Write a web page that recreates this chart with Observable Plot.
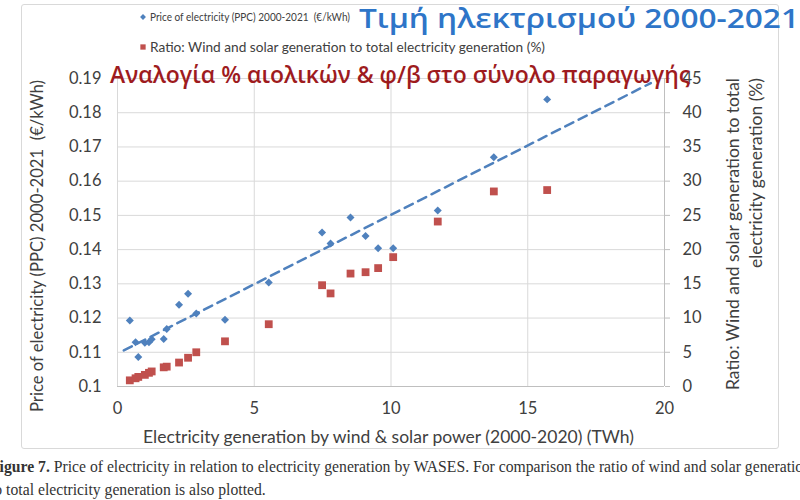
<!DOCTYPE html>
<html>
<head>
<meta charset="utf-8">
<script src="https://cdn.jsdelivr.net/npm/d3@7"></script>
<script src="https://cdn.jsdelivr.net/npm/@observablehq/plot@0.6"></script>
<style>
  html, body { margin: 0; padding: 0; background: #fff; }
  #wrap { position: relative; width: 800px; height: 500px; overflow: hidden; background: #fff; font-family: Lato, "Open Sans", sans-serif; }
  #frame { position: absolute; left: 21px; top: 4px; width: 756px; height: 443px; border: 1px solid #d9d9d9; border-radius: 3px; }
  #plot { position: absolute; left: 0; top: 0; }
  .abs { position: absolute; white-space: nowrap; }
  #overlay { position: absolute; left: 0; top: 0; pointer-events: none; }
</style>
</head>
<body>
<div id="wrap">
  <div id="frame"></div>
  <div id="plot"></div>
  <svg id="overlay" width="800" height="500"></svg>
  <div class="abs" style="left:-10px; top:455px; font-family:'Liberation Serif', 'DejaVu Serif', serif; font-size:15.7px; line-height:23px; color:#333;">
    <b>Figure 7.</b> Price of electricity in relation to electricity generation by WASES. For comparison the ratio of wind and solar generation<br>to total electricity generation is also plotted.
  </div>
</div>
<script>
// ---- data ----
const windSolarTWh = [0.45, 0.66, 0.76, 1.00, 1.15, 1.25, 1.69, 1.80, 2.25, 2.58, 2.88, 3.93, 5.53, 7.48, 7.79, 8.52, 9.07, 9.53, 10.08, 11.71, 13.76, 15.71];
const priceEurKWh  = [0.1193, 0.1129, 0.1086, 0.1128, 0.1129, 0.1138, 0.1139, 0.1168, 0.1239, 0.1271, 0.1213, 0.1195, 0.1304, 0.1450, 0.1418, 0.1494, 0.1440, 0.1404, 0.1404, 0.1514, 0.1670, 0.1839];
const ratioPct     = [0.9, 1.2, 1.4, 1.7, 2.0, 2.2, 2.8, 2.9, 3.5, 4.2, 5.0, 6.6, 9.1, 14.8, 13.6, 16.5, 16.7, 17.3, 18.9, 24.1, 28.5, 28.7];
const xTicks     = [0, 5, 10, 15, 20];
const priceTicks = [0.10, 0.11, 0.12, 0.13, 0.14, 0.15, 0.16, 0.17, 0.18, 0.19];
const ratioTicks = [0, 5, 10, 15, 20, 25, 30, 35, 40, 45];
const trendRange = [0.23, 19.5]; // trendline forecast extent (TWh)

const legendPrice = "Price of electricity (PPC) 2000-2021  (€/kWh)";
const legendRatio = "Ratio: Wind and solar generation to total electricity generation (%)";
const titleGreekPrice = "Τιμή ηλεκτρισμού 2000-2021";
const titleGreekRatio = "Αναλογία % αιολικών & φ/β στο σύνολο παραγωγής";
const xTitle = "Electricity generation by wind & solar power (2000-2020) (TWh)";
const yLeftTitle = "Price of electricity (PPC) 2000-2021  (€/kWh)";
const yRightTitle = ["Ratio: Wind and solar generation to total", "electricity generation (%)"];

// ---- secondary axis mapping: ratio 0..45 onto price 0.10..0.19 ----
const priceDomain = [0.10, 0.19], ratioDomain = [0, 45];
const toY = r => priceDomain[0] + (r - ratioDomain[0]) * (priceDomain[1] - priceDomain[0]) / (ratioDomain[1] - ratioDomain[0]);
const fromY = y => Math.round(ratioDomain[0] + (y - priceDomain[0]) * (ratioDomain[1] - ratioDomain[0]) / (priceDomain[1] - priceDomain[0]));

const rows = windSolarTWh.map((x, i) => ({x, price: priceEurKWh[i], ratio: ratioPct[i]}));

// linear least-squares trend of price vs generation
const mx = d3.mean(windSolarTWh), my = d3.mean(priceEurKWh);
const slope = d3.sum(rows, d => (d.x - mx) * (d.price - my)) / d3.sum(rows, d => (d.x - mx) ** 2);
const intercept = my - slope * mx;
const trend = trendRange.map(x => ({x, y: intercept + slope * x}));

const blue = "#4F81BD", red = "#C0504D", grid = "#d9d9d9", axisC = "#bfbfbf", txt = "#404040";

const chart = Plot.plot({
  width: 800, height: 450,
  marginLeft: 117, marginRight: 136, marginTop: 78, marginBottom: 64,
  x: {domain: [0, 20]},
  y: {domain: priceDomain},
  style: {fontFamily: "Lato, 'Open Sans', sans-serif", background: "transparent", overflow: "visible"},
  marks: [
    Plot.gridY(priceTicks, {stroke: grid, strokeOpacity: 1}),
    Plot.gridX(xTicks.slice(0, -1), {stroke: grid, strokeOpacity: 1}),
    Plot.ruleX([20], {stroke: axisC}),
    Plot.ruleY([0.10], {stroke: axisC}),
    Plot.axisX(xTicks, {tickSize: 0, tickPadding: 16, fontSize: 16.5, fill: txt, label: null, tickFormat: d => String(d)}),
    Plot.axisY(priceTicks, {anchor: "left", tickSize: 0, tickPadding: 16, fontSize: 16.5, fill: txt, label: null, tickFormat: d => String(+d.toFixed(2))}),
    Plot.axisY(ratioTicks.map(toY), {anchor: "right", tickSize: 5, tickPadding: 13, fontSize: 16.5, fill: txt, stroke: axisC, label: null, tickFormat: d => String(fromY(d))}),
    Plot.dot(rows, {x: "x", y: "price", symbol: "diamond2", r: 3.6, fill: blue, stroke: "none"}),
    Plot.dot(rows, {x: "x", y: d => toY(d.ratio), symbol: "square", r: 4.4, fill: red, stroke: "none"}),
    Plot.line(trend, {x: "x", y: "y", stroke: blue, strokeWidth: 2.5, strokeDasharray: "9,6"})
  ]
});
document.getElementById("plot").appendChild(chart);

// ---- legend, overlay titles and axis titles ----
const ov = d3.select("#overlay");
const sym = (type, size, cx, cy, fill) => ov.append("path")
  .attr("d", d3.symbol(type, size)()).attr("transform", `translate(${cx},${cy})`).attr("fill", fill);
sym(d3.symbolDiamond2, 22, 143, 17, blue);
sym(d3.symbolSquare, 28, 143, 47, red);

const label = (str, {x, y, size, fill = txt, family = "Lato, sans-serif", weight = 400, anchor = "start", rotate = 0, len = null}) => {
  const t = ov.append("text")
    .attr("transform", `translate(${x},${y})` + (rotate ? ` rotate(${rotate})` : ""))
    .attr("text-anchor", anchor).attr("font-family", family).attr("font-size", size)
    .attr("font-weight", weight).attr("fill", fill).style("white-space", "pre").text(str);
  if (len) t.attr("textLength", len).attr("lengthAdjust", "spacingAndGlyphs");
  return t;
};

label(legendPrice, {x: 150, y: 21, size: 12, len: 200});
label(titleGreekPrice, {x: 359, y: 28, size: 27, fill: "#2E75C8", family: "'Open Sans', sans-serif", weight: 600, len: 440});
label(legendRatio, {x: 150, y: 52, size: 13.5, len: 395});
label(titleGreekRatio, {x: 110, y: 83, size: 24, fill: "#9E1B1E", family: "'Open Sans', sans-serif", weight: 600, len: 580});
label(xTitle, {x: 143, y: 443, size: 17.5, len: 491});
label(yLeftTitle, {x: 43, y: 246, size: 17, anchor: "middle", rotate: -90, len: 332});
label(yRightTitle[0], {x: 739, y: 78, size: 17, anchor: "end", rotate: -90, len: 312});
label(yRightTitle[1], {x: 762, y: 78, size: 17, anchor: "end", rotate: -90, len: 190});
</script>
</body>
</html>
